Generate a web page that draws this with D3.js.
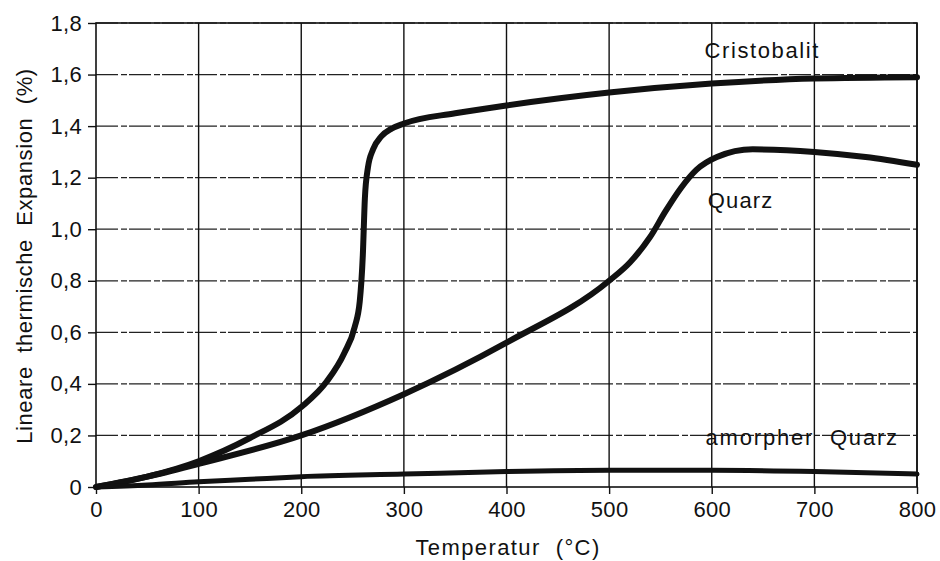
<!DOCTYPE html>
<html>
<head>
<meta charset="utf-8">
<script src="https://cdn.jsdelivr.net/npm/d3@7"></script>
<style>
  body { margin: 0; background: #fff; }
  text { font-family: "Liberation Sans", Arial, sans-serif; fill: #111; }
</style>
</head>
<body>
<svg id="chart" width="940" height="561"></svg>
<script>
// values: temperature (°C) -> expansion (%)
const cristobalitT = [0, 50, 100, 150, 200, 225, 242, 252, 257, 260, 262, 265, 270, 278, 288, 300, 350, 400, 500, 600, 700, 800];
const cristobalitV = [0, 0.04, 0.1, 0.19, 0.31, 0.41, 0.52, 0.62, 0.72, 0.9, 1.12, 1.24, 1.31, 1.36, 1.39, 1.41, 1.45, 1.48, 1.53, 1.565, 1.585, 1.59];

const quarzT = [0, 50, 100, 200, 300, 400, 500, 520, 540, 555, 570, 585, 605, 640, 700, 750, 800];
const quarzV = [0, 0.04, 0.09, 0.2, 0.36, 0.56, 0.8, 0.87, 0.97, 1.07, 1.16, 1.23, 1.28, 1.31, 1.3, 1.28, 1.25];

const amorphT = [0, 50, 100, 150, 200, 300, 400, 500, 600, 700, 800];
const amorphV = [0, 0.008, 0.02, 0.03, 0.04, 0.05, 0.06, 0.065, 0.065, 0.06, 0.05];

const xTicks = [0, 100, 200, 300, 400, 500, 600, 700, 800];
const yTicks = [0, 0.2, 0.4, 0.6, 0.8, 1.0, 1.2, 1.4, 1.6, 1.8];

const curveLabels = [
  { text: "Cristobalit", t: 593, v: 1.664, sp: 1.6 },
  { text: "Quarz", t: 596, v: 1.082, sp: 1.2 },
  { text: "amorpher  Quarz", t: 594, v: 0.163, sp: 1.8 }
];

const svg = d3.select("#chart");
const mLeft = 96, mRight = 917, mTop = 23, mBottom = 487;

const x = d3.scaleLinear().domain([0, 800]).range([mLeft, mRight]);
const y = d3.scaleLinear().domain([0, 1.8]).range([mBottom, mTop]);

// grid
svg.append("g").selectAll("line").data(yTicks.slice(1)).enter().append("line")
  .attr("x1", mLeft).attr("x2", mRight)
  .attr("y1", d => y(d)).attr("y2", d => y(d))
  .attr("stroke", "#222").attr("stroke-width", 1.2)
  .attr("stroke-dasharray", "22,3,6,2");

svg.append("g").selectAll("line").data(xTicks.slice(1)).enter().append("line")
  .attr("x1", d => x(d)).attr("x2", d => x(d))
  .attr("y1", mTop).attr("y2", mBottom)
  .attr("stroke", "#111").attr("stroke-width", 1.4);

// frame
svg.append("rect")
  .attr("x", mLeft).attr("y", mTop)
  .attr("width", mRight - mLeft).attr("height", mBottom - mTop)
  .attr("fill", "none").attr("stroke", "#111").attr("stroke-width", 1.6);

const fmt = d => d === 0 ? "0" : d3.format(".1f")(d).replace(".", ",");

const xAxis = svg.append("g")
  .attr("transform", `translate(0,${mBottom})`)
  .call(d3.axisBottom(x).tickValues(xTicks).tickSize(7).tickPadding(7));
const yAxis = svg.append("g")
  .attr("transform", `translate(${mLeft},0)`)
  .call(d3.axisLeft(y).tickValues(yTicks).tickFormat(fmt).tickSize(8).tickPadding(6));

[xAxis, yAxis].forEach(a => {
  a.select(".domain").remove();
  a.selectAll("line").attr("stroke", "#111").attr("stroke-width", 1.4);
  a.selectAll("text").attr("font-size", 22)
    .style("font-family", "'Liberation Sans', Arial, sans-serif")
    .style("letter-spacing", "0.3px").attr("fill", "#111");
});

// curves
const line = d3.line().curve(d3.curveMonotoneX);
function drawCurve(ts, vs, w) {
  svg.append("path")
    .attr("d", line(ts.map((t, i) => [x(t), y(vs[i])])))
    .attr("fill", "none").attr("stroke", "#111")
    .attr("stroke-width", w).attr("stroke-linecap", "round").attr("stroke-linejoin", "round");
}
drawCurve(cristobalitT, cristobalitV, 6);
drawCurve(quarzT, quarzV, 6);
drawCurve(amorphT, amorphV, 5);

// curve labels
curveLabels.forEach(l => {
  svg.append("text")
    .attr("x", x(l.t)).attr("y", y(l.v))
    .attr("font-size", 22).style("letter-spacing", l.sp + "px")
    .style("white-space", "pre").text(l.text);
});

// axis titles
svg.append("text")
  .attr("x", 508).attr("y", 555)
  .attr("text-anchor", "middle").attr("font-size", 22)
  .style("letter-spacing", "1.4px").style("white-space", "pre")
  .text("Temperatur  (°C)");

svg.append("text")
  .attr("transform", `translate(32,256) rotate(-90)`)
  .attr("text-anchor", "middle").attr("font-size", 22)
  .style("letter-spacing", "0.6px").style("white-space", "pre")
  .text("Lineare  thermische  Expansion  (%)");
</script>
</body>
</html>
